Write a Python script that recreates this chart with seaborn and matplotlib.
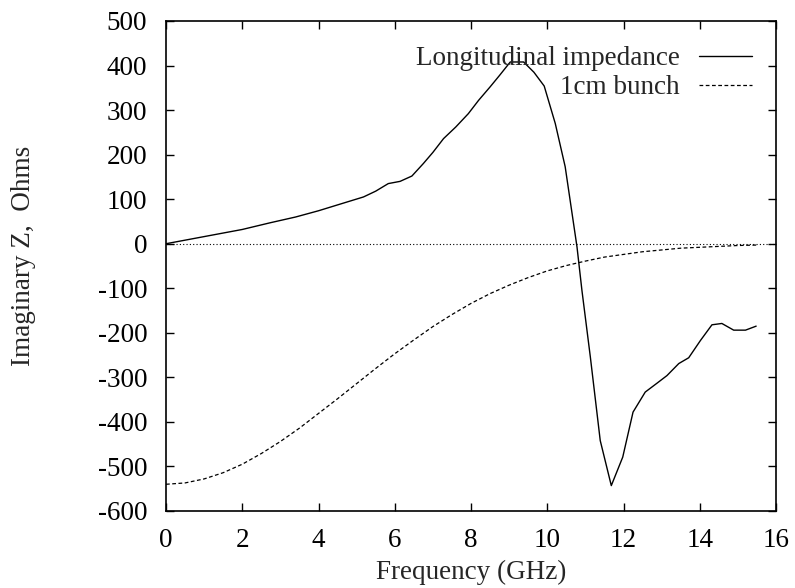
import numpy as np
import pandas as pd
import matplotlib
matplotlib.use("Agg")
import matplotlib.pyplot as plt
import seaborn as sns

# Longitudinal impedance (imaginary part)
imp_freq = [0.0, 1.0, 2.0, 2.73, 3.4, 4.0, 4.57, 5.18, 5.5, 5.83, 6.14, 6.45, 6.75,
            7.0, 7.28, 7.6, 7.93, 8.2, 8.5, 8.75, 9.03, 9.38, 9.65, 9.92, 10.21,
            10.47, 10.78, 10.91, 11.13, 11.39, 11.68, 11.98, 12.25, 12.57, 12.88,
            13.14, 13.45, 13.71, 14.02, 14.32, 14.58, 14.89, 15.2, 15.48]
imp_vals = [0, 16, 32, 47, 60, 74, 89, 105, 118, 135, 140, 152, 180,
            205, 236, 262, 292, 322, 352, 378, 408, 408, 385, 354, 270,
            173, -7, -105, -254, -442, -543, -479, -378, -333, -313,
            -296, -269, -256, -217, -182, -179, -194, -194, -185]

# 1cm bunch spectrum
bunch_freq = [0.0, 0.5, 1.0, 1.5, 2.0, 2.5, 3.0, 3.5, 4.0, 4.5, 5.0, 5.5, 6.0,
              6.5, 7.0, 7.5, 8.0, 8.5, 9.0, 9.5, 10.0, 10.5, 11.0, 11.5, 12.0,
              12.5, 13.0, 13.5, 14.0, 14.5, 15.0, 15.5]
bunch_vals = [-540, -537, -528, -514, -495, -471, -444, -414, -381, -348, -314,
              -280, -247, -216, -186, -159, -134, -112, -93, -76, -61, -49, -39,
              -30, -24, -18, -14, -10, -8, -6, -4, -3]

x_ticks = [0, 2, 4, 6, 8, 10, 12, 14, 16]
y_ticks = [-600, -500, -400, -300, -200, -100, 0, 100, 200, 300, 400, 500]

sns.set_style("ticks")
plt.rcParams['font.family'] = ['Liberation Serif', 'DejaVu Serif']

FS = 19.5
W, H = 795, 588
fig = plt.figure(figsize=(W / 100, H / 100), dpi=100)
ax = fig.add_axes([166 / W, 1 - 511 / H, (776 - 166) / W, (511 - 21) / H])

df_imp = pd.DataFrame({"f": imp_freq, "z": imp_vals})
df_b = pd.DataFrame({"f": bunch_freq, "z": bunch_vals})

ax.axhline(0, color='black', lw=0.8, ls=(0, (1, 2)), zorder=1)
sns.lineplot(data=df_imp, x="f", y="z", ax=ax, color='black', lw=1.0,
             label="Longitudinal impedance", sort=False, estimator=None)
sns.lineplot(data=df_b, x="f", y="z", ax=ax, color='black', lw=0.9,
             linestyle=(0, (3, 2)), label="1cm bunch", sort=False, estimator=None)

ax.set_xlim(0, 16)
ax.set_ylim(-600, 500)
ax.set_xticks(x_ticks)
ax.set_yticks(y_ticks)
ax.set_xticklabels([str(v) for v in x_ticks])
ax.set_yticklabels([str(v) for v in y_ticks])
ax.tick_params(direction='in', length=6, width=1, top=True, right=True,
               labelsize=FS, colors='black')
ax.tick_params(axis='y', pad=13.5)
ax.tick_params(axis='x', pad=12.5)
for s in ax.spines.values():
    s.set_visible(True)
    s.set_linewidth(1.2)
    s.set_color('black')

ax.set_xlabel("Frequency (GHz)", fontsize=FS)
ax.xaxis.set_label_coords(0.5, (511 - 560) / 490)
ax.xaxis.label.set_va('top')
ax.set_ylabel("Imaginary Z,  Ohms", fontsize=FS)
ax.yaxis.set_label_coords((36 - 166) / 610, (511 - 256) / 490)

leg = ax.legend(loc='upper right', frameon=False, markerfirst=False,
                fontsize=FS, handlelength=1.95, handletextpad=0.72,
                labelspacing=0.15, borderpad=0, borderaxespad=0,
                bbox_to_anchor=(752 / W, 1 - 46 / H),
                bbox_transform=fig.transFigure)
for t in leg.get_texts():
    t.set_ha('right')

fig.savefig("out.png", dpi=100)
